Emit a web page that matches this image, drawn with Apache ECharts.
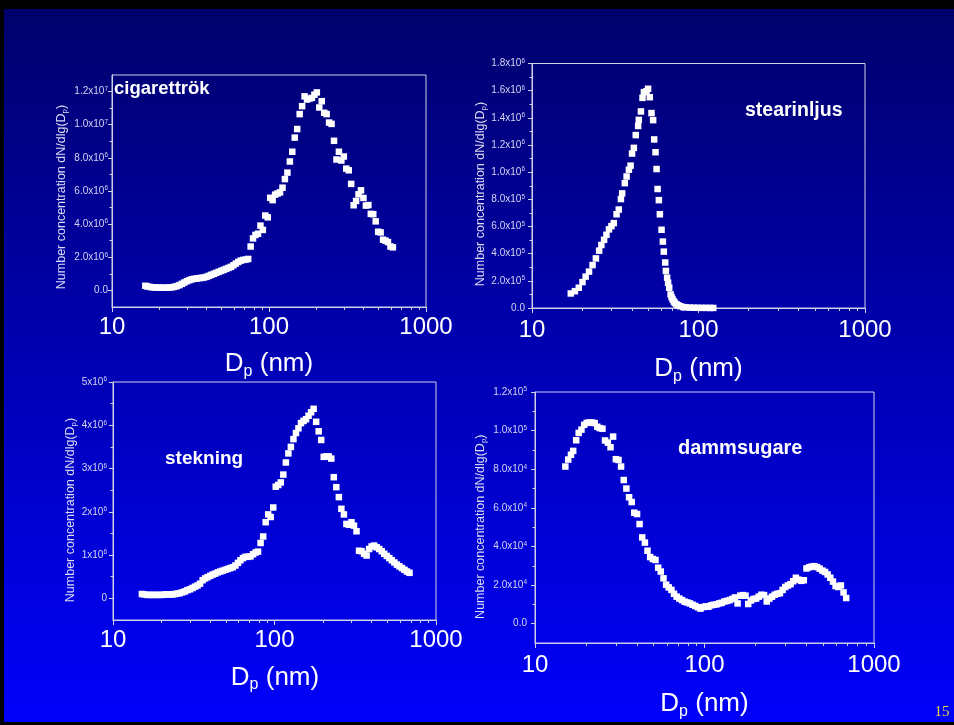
<!DOCTYPE html>
<html><head><meta charset="utf-8">
<script src="https://cdn.jsdelivr.net/npm/echarts@6/dist/echarts.min.js"></script>
<style>html,body{margin:0;padding:0;background:#000;}#c{width:954px;height:725px;}</style>
</head><body><div id="c"></div>
<script>
const FONT = "'Liberation Sans', Arial, Helvetica, sans-serif";

// SMPS channel mid-point diameters (nm)
const channelD = [15.1,15.7,16.3,16.8,17.5,18.1,18.8,19.5,20.2,20.9,
  21.7,22.5,23.3,24.1,25.0,25.9,26.9,27.9,28.9,30.0,
  31.1,32.2,33.4,34.6,35.9,37.2,38.5,40.0,41.4,42.9,
  44.5,46.1,47.8,49.6,51.4,53.3,55.2,57.3,59.4,61.5,
  63.8,66.1,68.5,71.0,73.7,76.4,79.1,82.0,85.1,88.2,
  91.4,94.7,98.2,101.8,105.5,109.4,113.4,117.6,121.9,126.3,
  131.0,135.8,140.7,145.9,151.2,156.8,162.5,168.5,174.7,181.1,
  187.7,194.6,201.7,209.1,216.7,224.7,232.9,241.4,250.3,259.5,
  269.0,278.8,289.0,299.6,310.6,322.0,333.8,346.0,358.7,371.8,
  385.4,399.5,414.2,429.4,445.1,461.4,478.3,495.8,514.0,532.8,
  552.3,572.5,593.5,615.3,637.8,661.2,685.4];

// cigarettrök: diameters 16.3 .. 615.3 nm, concentration in units of 1e6
const cigD = channelD.slice(2, 104);
const cigConc = [0.28,0.24,0.21,0.19,0.18,0.17,0.17,0.16,
  0.16,0.17,0.18,0.19,0.22,0.26,0.32,0.40,0.48,0.56,
  0.62,0.67,0.70,0.72,0.74,0.76,0.78,0.82,0.88,0.94,
  1.00,1.06,1.12,1.18,1.24,1.30,1.36,1.42,1.52,1.62,
  1.72,1.80,1.84,1.86,1.90,2.65,3.14,3.35,3.42,3.91,
  3.65,4.52,4.41,5.59,5.45,5.78,5.85,5.92,6.20,6.72,
  7.11,7.78,8.37,9.22,9.74,10.64,11.12,11.71,11.52,11.58,
  11.62,11.81,11.95,11.04,11.42,10.72,10.64,10.13,10.05,9.03,
  7.90,8.37,7.84,8.08,7.35,7.25,6.43,5.14,5.40,5.80,
  6.04,5.58,5.12,5.15,4.62,4.60,4.17,3.54,3.50,3.06,
  3.00,2.92,2.65,2.60];

// stearinljus: diameters (nm), concentration in units of 1e5
const stearD = [17.1,18.1,19.1,20.1,21.0,22.0,23.1,24.2,25.3,26.1,
  27.1,28.0,29.0,30.0,31.0,32.2,33.2,34.2,34.8,36.1,
  37.0,38.2,39.1,39.9,40.9,42.0,43.4,43.8,45.1,46.1,
  47.0,48.7,49.8,51.0,52.2,53.4,54.2,55.2,56.0,56.8,
  57.8,58.6,60.0,61.1,61.9,63.1,63.7,64.8,65.7,66.7,
  68.0,68.9,69.9,71.1,72.1,73.6,75.5,77.8,80.9,84.0,
  88.8,93.8,99.2,104.8,110.8,117.1,122.6];
const stearConc = [1.07,1.24,1.49,1.91,2.31,2.68,3.16,3.65,4.22,4.64,
  5.02,5.39,5.79,6.03,6.25,6.90,7.25,8.02,8.44,9.19,
  9.68,10.18,10.48,11.37,11.79,12.73,13.40,13.85,14.47,15.47,
  15.89,15.96,16.14,15.52,14.35,13.83,12.41,11.47,10.23,8.76,
  7.94,6.90,5.76,4.89,4.15,3.35,2.73,2.23,1.86,1.49,
  1.00,0.80,0.63,0.48,0.37,0.28,0.20,0.13,0.07,0.05,
  0.03,0.02,0.015,0.01,0.01,0.005,0.005];

// stekning: diameters = channelD, concentration in units of 1e6
const stekConc = [0.10,0.09,0.08,0.08,0.08,0.08,0.08,0.08,0.08,0.09,
  0.09,0.09,0.09,0.10,0.11,0.12,0.14,0.16,0.19,0.21,
  0.24,0.27,0.30,0.34,0.42,0.46,0.49,0.52,0.55,0.57,
  0.60,0.62,0.64,0.66,0.68,0.70,0.72,0.76,0.82,0.88,
  0.93,0.96,0.96,0.97,1.02,1.06,1.08,1.28,1.43,1.76,
  1.94,1.88,2.10,2.58,2.62,2.68,2.86,3.14,3.35,3.50,
  3.68,3.82,3.93,4.05,4.10,4.14,4.22,4.30,4.38,4.08,
  3.86,3.66,3.27,3.28,3.28,3.23,2.80,2.57,2.34,2.07,
  1.94,1.72,1.70,1.76,1.68,1.55,1.10,1.09,1.03,0.99,
  1.14,1.20,1.22,1.18,1.14,1.09,1.03,0.98,0.93,0.88,
  0.83,0.78,0.74,0.70,0.66,0.62,0.59];

// dammsugare: diameters = channelD, concentration in units of 1e4
const dammConc = [8.14,8.50,8.75,8.95,9.50,9.88,10.05,10.30,10.40,10.42,
  10.42,10.39,10.20,10.13,10.10,9.49,9.38,9.14,9.69,8.52,
  8.48,8.14,7.44,7.00,6.55,6.30,5.75,5.68,5.16,4.47,
  4.20,3.78,3.45,3.35,3.30,2.90,2.70,2.35,2.02,1.88,
  1.75,1.55,1.40,1.30,1.22,1.14,1.10,1.05,0.98,0.92,
  0.85,0.78,0.86,0.90,0.88,0.95,0.98,1.00,1.05,1.08,
  1.15,1.18,1.22,1.28,1.36,1.05,1.45,1.48,1.45,1.02,
  1.20,1.28,1.30,1.40,1.50,1.48,1.15,1.30,1.40,1.50,
  1.55,1.58,1.75,1.90,1.98,2.05,2.20,2.38,2.28,2.22,
  2.25,2.86,2.92,2.96,2.98,2.93,2.85,2.75,2.68,2.55,
  2.38,2.18,1.95,1.90,1.98,1.62,1.33];

// y tick values and labels
const cigTicks = [0,2e6,4e6,6e6,8e6,1e7,1.2e7];
const cigTickLabels = ['0.0','2.0x10{s|6}','4.0x10{s|6}','6.0x10{s|6}','8.0x10{s|6}','1.0x10{s|7}','1.2x10{s|7}'];
const cigMinor = [1e6,3e6,5e6,7e6,9e6,1.1e7];
const stearTicks = [0,2e5,4e5,6e5,8e5,1e6,1.2e6,1.4e6,1.6e6,1.8e6];
const stearTickLabels = ['0.0','2.0x10{s|5}','4.0x10{s|5}','6.0x10{s|5}','8.0x10{s|5}','1.0x10{s|6}','1.2x10{s|6}','1.4x10{s|6}','1.6x10{s|6}','1.8x10{s|6}'];
const stearMinor = [1e5,3e5,5e5,7e5,9e5,1.1e6,1.3e6,1.5e6,1.7e6];
const stekTicks = [0,1e6,2e6,3e6,4e6,5e6];
const stekTickLabels = ['0','1x10{s|6}','2x10{s|6}','3x10{s|6}','4x10{s|6}','5x10{s|6}'];
const stekMinor = [5e5,1.5e6,2.5e6,3.5e6,4.5e6];
const dammTicks = [0,2e4,4e4,6e4,8e4,1e5,1.2e5];
const dammTickLabels = ['0.0','2.0x10{s|4}','4.0x10{s|4}','6.0x10{s|4}','8.0x10{s|4}','1.0x10{s|5}','1.2x10{s|5}'];
const dammMinor = [1e4,3e4,5e4,7e4,9e4,1.1e5];

const titles = ['cigarettrök','stearinljus','stekning','dammsugare'];

const AX = '#cfcfe6';
const LBL = '#d4d4f2';

const panels = [
  {grid:{left:112,top:75,width:314,height:232}, yMin:-1e6, yMax:1.3e7, unit:1e6, d:cigD, v:cigConc,
   ticks:cigTicks, labels:cigTickLabels, minor:cigMinor, xm:8, ym:4,
   title:{x:114,y:89,size:18.5}, yName:{x:61.5,y:197}, xName:{x:269,y:364.3}},
  {grid:{left:532,top:63.5,width:333,height:244.5}, yMin:0, yMax:1.8e6, unit:1e5, d:stearD, v:stearConc,
   ticks:stearTicks, labels:stearTickLabels, minor:stearMinor, xm:10, ym:7,
   title:{x:745,y:110.7,size:19.5}, yName:{x:480.5,y:194}, xName:{x:698.5,y:369.3}},
  {grid:{left:113,top:382,width:323,height:238}, yMin:-5e5, yMax:5e6, unit:1e6, d:channelD, v:stekConc,
   ticks:stekTicks, labels:stekTickLabels, minor:stekMinor, xm:8, ym:6,
   title:{x:165,y:458.5,size:19}, yName:{x:70.5,y:510}, xName:{x:275,y:677.7}},
  {grid:{left:535,top:392,width:339,height:251}, yMin:-1e4, yMax:1.2e5, unit:1e4, d:channelD, v:dammConc,
   ticks:dammTicks, labels:dammTickLabels, minor:dammMinor, xm:10, ym:8,
   title:{x:678,y:448.5,size:20}, yName:{x:481,y:526.7}, xName:{x:704.5,y:704.3}}
];

const grid = [], xAxis = [], yAxis = [], series = [], graphic = [];

graphic.push({type:'rect', shape:{x:0,y:0,width:954,height:9}, style:{fill:'#000'}, silent:true});
graphic.push({type:'rect', shape:{x:0,y:0,width:4,height:725}, style:{fill:'#000'}, silent:true});
graphic.push({type:'rect', shape:{x:0,y:722,width:954,height:3}, style:{fill:'#000'}, silent:true});

panels.forEach((p, i) => {
  grid.push(Object.assign({show:true, borderColor:AX, borderWidth:1, backgroundColor:'transparent',
    containLabel:false, outerBoundsMode:'none'}, p.grid));
  xAxis.push({type:'log', gridIndex:i, logBase:10, min:10, max:1000,
    axisLine:{show:true, onZero:false, lineStyle:{color:AX, width:1}},
    axisTick:{show:true, inside:false, length:5, lineStyle:{color:AX, width:1}},
    minorTick:{show:true, splitNumber:9, length:3, lineStyle:{color:AX, width:1}},
    axisLabel:{color:'#ffffff', fontSize:24, fontFamily:FONT, margin:p.xm, formatter:v => String(Math.round(v))},
    splitLine:{show:false}, minorSplitLine:{show:false}});
  const fmt = (val) => {
    const k = p.ticks.findIndex(t => Math.abs(t - val) <= 1e-6 * Math.max(1, Math.abs(t)));
    return k >= 0 ? p.labels[k] : '';
  };
  yAxis.push({type:'value', gridIndex:i, min:p.yMin, max:p.yMax, position:'left',
    axisLine:{show:true, onZero:false, lineStyle:{color:AX, width:1}},
    axisTick:{show:true, inside:false, length:4, customValues:p.ticks, lineStyle:{color:AX, width:1}},
    axisLabel:{customValues:p.ticks, formatter:fmt, color:LBL, fontSize:10, fontFamily:FONT, margin:p.ym, lineHeight:12,
      rich:{s:{fontSize:6.5, lineHeight:6, verticalAlign:'top', color:LBL, fontFamily:FONT}}},
    splitLine:{show:false}});
  yAxis.push({type:'value', gridIndex:i, min:p.yMin, max:p.yMax, position:'left',
    axisLine:{show:false, onZero:false},
    axisTick:{show:true, inside:false, length:2.5, customValues:p.minor, lineStyle:{color:AX, width:1}},
    axisLabel:{show:false}, splitLine:{show:false}});
  series.push({type:'scatter', xAxisIndex:i, yAxisIndex:2*i, symbol:'rect', symbolSize:6.5,
    itemStyle:{color:'#ffffff', opacity:1}, silent:true, emphasis:{disabled:true},
    data:p.d.map((d, k) => [d, p.v[k] * p.unit])});

  graphic.push({type:'text', x:p.title.x, y:p.title.y, silent:true,
    style:{text:titles[i], fill:'#ffffff', font:'bold ' + p.title.size + 'px ' + FONT, align:'left', verticalAlign:'middle'}});
  graphic.push({type:'text', x:p.yName.x, y:p.yName.y, rotation:Math.PI/2, silent:true,
    style:{text:'Number concentration dN/dlg(D{sub|p})', fill:'#dcdcf6', font:'12.5px ' + FONT,
      align:'center', verticalAlign:'middle', lineHeight:14,
      rich:{sub:{fontSize:8, fontFamily:FONT, lineHeight:8, verticalAlign:'bottom', fill:'#dcdcf6'}}}});
  graphic.push({type:'text', x:p.xName.x, y:p.xName.y, silent:true,
    style:{text:'{d|D}{sub|p}{d| (nm)}', fill:'#ffffff', align:'center', verticalAlign:'middle',
      rich:{d:{fontSize:26, fontFamily:FONT, lineHeight:30, fill:'#ffffff'},
            sub:{fontSize:16, fontFamily:FONT, lineHeight:10, verticalAlign:'bottom', fill:'#ffffff'}}}});
});

graphic.push({type:'text', x:942, y:712.5, silent:true,
  style:{text:'15', fill:'#e6d34a', font:'15px "Liberation Serif", "Times New Roman", serif', align:'center', verticalAlign:'middle'}});

const chart = echarts.init(document.getElementById('c'), null, {renderer:'canvas'});
chart.setOption({
  animation:false,
  backgroundColor:{type:'linear', x:0, y:0, x2:0, y2:1,
    colorStops:[{offset:0, color:'#00006a'}, {offset:0.5, color:'#0000b4'}, {offset:1, color:'#0000fb'}]},
  grid, xAxis, yAxis, series, graphic
});
</script></body></html>
